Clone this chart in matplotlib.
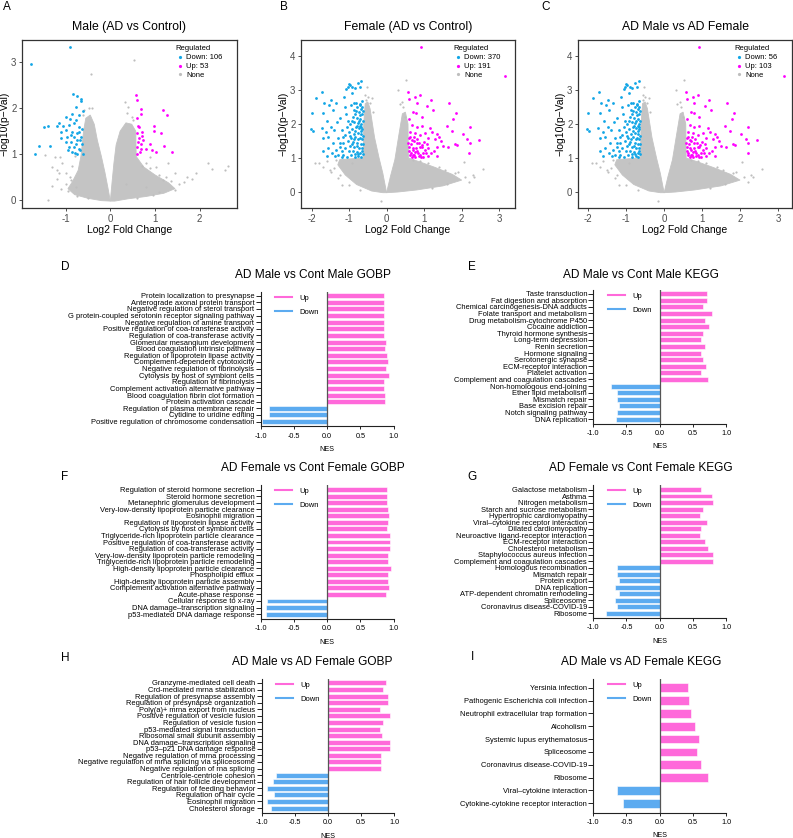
import matplotlib.pyplot as plt
from matplotlib.lines import Line2D
import numpy as np

plt.rcParams['font.family'] = ['Liberation Sans', 'DejaVu Sans']
plt.rcParams['axes.unicode_minus'] = False

# ---------------- volcano data ----------------
# dense grey cloud, outlined as two arms of the V
male_core_left_x = [0.0, -0.05, -0.12, -0.2, -0.29, -0.36, -0.45, -0.55, -0.6, -0.63, -0.66, -0.72, -0.85, -0.95, -0.8, -0.5, -0.2]
male_core_left_y = [-0.02, 0.25, 0.6, 0.95, 1.3, 1.65, 1.85, 1.78, 1.5, 1.2, 0.95, 0.65, 0.4, 0.25, 0.12, 0.04, -0.01]
male_core_right_x = [0.0, 0.04, 0.08, 0.13, 0.22, 0.35, 0.48, 0.57, 0.58, 0.75, 1.0, 1.3, 1.45, 1.2, 0.8, 0.4, 0.1]
male_core_right_y = [-0.02, 0.4, 0.8, 1.2, 1.5, 1.68, 1.65, 1.5, 0.95, 0.72, 0.55, 0.38, 0.25, 0.15, 0.08, 0.03, -0.02]

male_none = [(0.54, 3.04), (-0.44, 2.74), (-0.47, 2.01), (0.32, 2.14), (0.39, 2.03), (-1.47, 0.98), (-1.23, 0.94),
             (-1.12, 0.94), (-1.39, 0.01), (2.20, 0.80), (2.29, 0.67), (2.57, 0.65), (2.63, 0.74), (1.92, 0.58),
             (1.82, 0.47), (1.65, 0.40), (1.46, 0.58), (1.18, 0.43), (1.03, 0.72), (0.88, 0.94), (1.29, 0.80),
             (-1.08, 0.80), (-1.19, 0.65), (-1.30, 0.72), (-1.0, 0.58), (-0.89, 0.43), (-0.77, 0.29), (0.35, 0.36),
             (0.80, 0.29), (1.71, 0.51), (-0.9, 0.5), (-1.0, 0.35), (-1.1, 0.25), (-0.95, 0.2), (-0.75, 0.1),
             (-1.2, 0.45), (-0.85, 0.75), (-0.8, 0.95), (-0.58, 1.95), (-0.62, 1.85), (-0.42, 2.0),
             (0.38, 1.9), (0.48, 1.8), (0.5, 1.75), (0.9, 0.7), (1.1, 0.55), (1.25, 0.5), (1.35, 0.42), (1.55, 0.35),
             (1.45, 0.22), (1.1, 0.18), (0.95, 0.12), (-0.5, 0.05), (0.6, 0.04), (0.7, 0.75), (0.8, 0.8),
             (-1.3, 0.3), (-1.15, 0.6)]
male_down = [(-1.77, 2.96), (-0.90, 3.32), (-0.83, 2.30), (-0.74, 2.26), (-0.65, 2.19), (-0.66, 2.15), (-0.77, 2.03),
             (-0.62, 1.94), (-0.86, 1.88), (-0.71, 1.85), (-0.91, 1.76), (-1.0, 1.81), (-1.14, 1.67), (-1.19, 1.61),
             (-1.39, 1.61), (-1.49, 1.58), (-1.05, 1.61), (-0.92, 1.63), (-0.81, 1.67), (-0.70, 1.59), (-1.11, 1.49),
             (-1.0, 1.52), (-0.85, 1.49), (-0.74, 1.45), (-0.96, 1.38), (-0.81, 1.38), (-0.66, 1.38), (-0.89, 1.27),
             (-0.74, 1.30), (-0.64, 1.23), (-0.92, 1.16), (-0.81, 1.16), (-0.70, 1.12), (-0.85, 1.05), (-0.74, 1.01),
             (-0.62, 1.01), (-1.60, 1.18), (-1.35, 1.17), (-1.69, 1.0), (-0.70, 1.49), (-1.0, 1.27), (-1.11, 1.34),
             (-0.78, 1.22), (-0.67, 1.08), (-0.88, 1.42), (-0.76, 1.75), (-0.63, 1.55), (-0.95, 1.10), (-0.68, 1.30),
             (-0.79, 1.03)]
male_up = [(0.58, 2.28), (0.59, 2.17), (0.69, 1.99), (0.68, 1.88), (1.17, 1.96), (1.27, 1.84), (0.60, 1.78),
           (0.64, 1.59), (0.59, 1.45), (0.71, 1.49), (0.97, 1.61), (0.99, 1.51), (1.14, 1.46), (0.65, 1.34),
           (0.74, 1.30), (0.89, 1.23), (1.20, 1.17), (0.60, 1.16), (0.69, 1.12), (0.79, 1.12), (0.94, 1.09),
           (1.03, 1.05), (1.38, 1.04), (0.59, 1.01), (0.69, 1.23), (0.62, 1.27), (0.61, 1.62), (0.66, 1.05),
           (0.72, 1.40)]

# female comparison and AD male vs AD female share the same cloud in the picture
fem_core_left_x = [0.0, -0.1, -0.2, -0.32, -0.44, -0.5, -0.57, -0.61, -0.62, -0.9, -1.25, -1.3, -1.1, -0.8, -0.4, -0.1]
fem_core_left_y = [-0.02, 0.55, 1.0, 1.6, 2.45, 2.65, 2.6, 2.0, 1.0, 0.98, 0.95, 0.8, 0.5, 0.22, 0.03, -0.02]
fem_core_right_x = [0.0, 0.1, 0.22, 0.33, 0.42, 0.5, 0.57, 0.58, 0.9, 1.3, 1.75, 2.0, 1.5, 0.8, 0.3]
fem_core_right_y = [-0.02, 0.45, 0.95, 1.7, 2.3, 2.35, 2.0, 1.0, 0.88, 0.72, 0.52, 0.35, 0.18, 0.06, 0.0]

fem_none = [(0.53, 3.29), (0.31, 3.0), (-0.52, 3.1), (-0.57, 2.85), (-0.44, 2.61), (-0.36, 2.36), (-1.8, 0.84),
            (-1.51, 0.65), (-0.16, -0.26), (-0.92, 0.86), (-1.48, 0.6), (-1.24, 0.5), (2.06, 0.87), (2.34, 0.45),
            (2.58, 0.67), (1.82, 0.55), (1.56, 0.65), (-1.4, 0.7), (-1.3, 0.4), (-1.0, 0.2), (-1.2, 0.2),
            (-0.7, 0.05), (-1.6, 0.9), (-1.35, 0.95), (-0.55, 2.7), (-0.5, 2.8), (0.45, 2.5), (0.35, 2.6),
            (0.5, 2.2), (2.1, 0.45), (2.2, 0.3), (1.9, 0.6), (2.3, 0.5), (1.6, 0.25), (1.2, 0.12), (0.9, 0.9),
            (1.1, 0.85), (1.4, 0.75), (0.7, 0.95), (-1.7, 0.75), (-1.9, 0.85), (0.42, 2.65), (-0.4, 2.75)]
fem_down = [(-2.02, 1.84), (-1.97, 1.80), (-2.0, 2.33), (-1.88, 2.75), (-1.72, 2.95), (-1.66, 2.61), (-1.69, 2.33),
            (-1.73, 1.87), (-1.58, 2.10), (-1.53, 2.56), (-1.47, 2.71), (-1.44, 2.41), (-1.35, 2.63), (-1.33, 2.07),
            (-1.40, 1.82), (-1.56, 1.63), (-1.69, 1.58), (-1.62, 1.77), (-1.49, 1.90), (-1.24, 2.17), (-1.20, 1.82),
            (-1.29, 1.58), (-1.42, 1.43), (-1.24, 1.33), (-1.16, 1.63), (-1.11, 2.51), (-1.13, 2.78), (-1.07, 3.02),
            (-0.98, 3.14), (-1.02, 3.10), (-0.91, 3.08), (-0.77, 3.22), (-0.67, 3.25), (-0.71, 3.10), (-0.93, 2.92),
            (-0.84, 3.05), (-1.0, 3.18), (-0.68, 1.02), (-0.75, 1.05), (-0.85, 1.03), (-0.95, 1.08), (-1.05, 1.04),
            (-1.15, 1.1), (-0.7, 1.15), (-0.8, 1.18), (-0.9, 1.2), (-1.0, 1.22), (-0.66, 1.3), (-0.74, 1.28),
            (-0.86, 1.33), (-0.97, 1.36), (-1.1, 1.3), (-0.69, 1.42), (-0.78, 1.45), (-0.9, 1.48), (-1.03, 1.5),
            (-0.66, 1.55), (-0.72, 1.6), (-0.83, 1.62), (-0.95, 1.58), (-0.68, 1.7), (-0.77, 1.74), (-0.88, 1.72),
            (-1.0, 1.76), (-0.65, 1.85), (-0.73, 1.88), (-0.82, 1.9), (-0.92, 1.86), (-0.67, 2.0), (-0.76, 2.02),
            (-0.86, 2.05), (-0.97, 2.0), (-0.7, 2.15), (-0.8, 2.18), (-0.9, 2.2), (-0.66, 2.3), (-0.74, 2.34),
            (-0.84, 2.28), (-0.69, 2.45), (-0.78, 2.5), (-0.88, 2.42), (-0.72, 2.6), (-0.82, 2.62), (-0.95, 2.55),
            (-0.66, 2.68), (-1.05, 1.9), (-1.08, 2.3), (-1.12, 1.68), (-1.2, 1.2), (-1.3, 1.1), (-1.25, 1.45),
            (-1.35, 1.25), (-1.45, 1.15), (-1.55, 1.3), (-1.6, 1.05), (-1.7, 1.2), (-0.63, 1.12), (-0.64, 1.65),
            (-0.63, 2.1), (-0.65, 2.5), (-0.7, 1.95), (-0.75, 1.55), (-0.8, 1.35), (-0.85, 1.12), (-0.93, 1.4),
            (-0.98, 1.65), (-1.02, 2.1), (-1.15, 1.45), (-1.18, 1.02), (-1.38, 1.05), (-0.88, 2.62), (-0.72, 2.25),
            (-0.79, 1.95), (-0.83, 1.78), (-0.69, 1.78), (-0.64, 1.4), (-0.67, 1.92), (-0.63, 2.38), (-0.71, 2.55),
            (-0.76, 1.12), (-0.87, 1.56), (-0.92, 2.1), (-0.74, 2.1), (-0.66, 1.2), (-0.81, 2.38)]
fem_up = [(0.92, 4.25), (3.16, 3.41), (0.58, 2.95), (0.76, 2.80), (0.89, 2.85), (0.60, 2.73), (1.18, 2.71),
          (1.67, 2.63), (0.80, 2.61), (1.07, 2.53), (1.24, 2.41), (0.71, 2.36), (0.78, 2.31), (1.85, 2.31),
          (0.93, 2.20), (1.78, 2.14), (0.60, 2.14), (2.22, 1.90), (0.67, 1.97), (0.80, 1.90), (0.93, 1.94),
          (1.16, 1.87), (1.60, 1.94), (1.73, 1.80), (0.62, 1.77), (0.76, 1.73), (0.89, 1.68), (1.02, 1.75),
          (1.20, 1.77), (1.33, 1.71), (1.40, 1.63), (1.29, 1.55), (1.11, 1.58), (2.03, 1.71), (2.15, 1.55),
          (2.46, 1.53), (1.82, 1.41), (1.87, 1.38), (2.22, 1.43), (1.51, 1.35), (1.64, 1.33), (0.67, 1.53),
          (0.80, 1.43), (0.93, 1.31), (0.60, 1.33), (0.71, 1.24), (0.84, 1.16), (1.02, 1.24), (1.17, 1.14),
          (1.33, 1.31), (0.62, 1.09), (0.76, 1.04), (0.91, 1.02), (1.11, 1.06), (2.20, 1.16), (0.6, 1.2),
          (0.65, 1.4), (0.7, 1.1), (0.72, 1.5), (0.78, 1.3), (0.82, 1.2), (0.86, 1.45), (0.9, 1.1), (0.95, 1.38),
          (0.98, 1.02), (1.05, 1.15), (0.63, 1.62), (0.74, 1.62), (0.68, 1.02), (0.85, 1.05), (1.0, 1.48),
          (1.1, 1.3), (1.25, 1.2), (1.35, 1.05), (1.45, 1.5), (0.58, 1.45), (0.69, 1.3), (0.64, 1.15),
          (0.75, 1.18), (0.88, 1.32), (0.97, 1.15), (1.08, 1.4), (0.81, 1.55), (0.59, 1.6), (0.73, 1.08)]

# ---------------- GSEA data ----------------
d_terms = ["Protein localization to presynapse", "Anterograde axonal protein transport",
           "Negative regulation of sterol transport", "G protein-coupled serotonin receptor signaling pathway",
           "Negative regulation of amine transport", "Positive regulation of coa-transferase activity",
           "Regulation of coa-transferase activity", "Glomerular mesangium development",
           "Blood coagulation intrinsic pathway", "Regulation of lipoprotein lipase activity",
           "Complement-dependent cytotoxicity", "Negative regulation of fibrinolysis",
           "Cytolysis by host of symbiont cells", "Regulation of fibrinolysis",
           "Complement activation alternative pathway", "Blood coagulation fibrin clot formation",
           "Protein activation cascade", "Regulation of plasma membrane repair", "Cytidine to uridine editing",
           "Positive regulation of chromosome condensation"]
d_nes = [0.85, 0.85, 0.85, 0.86, 0.85, 0.85, 0.85, 0.89, 0.87, 0.90, 0.91, 0.88, 0.93, 0.86, 0.86, 0.87, 0.87,
         -0.87, -0.87, -0.97]

e_terms = ["Taste transduction", "Fat digestion and absorption", "Chemical carcinogenesis-DNA adducts",
           "Folate transport and metabolism", "Drug metabolism-cytochrome P450", "Cocaine addiction",
           "Thyroid hormone synthesis", "Long-term depression", "Renin secretion", "Hormone signaling",
           "Serotonergic synapse", "ECM-receptor interaction", "Platelet activation",
           "Complement and coagulation cascades", "Non-homologous end-joining", "Ether lipid metabolism",
           "Mismatch repair", "Base excision repair", "Notch signaling pathway", "DNA replication"]
e_nes = [0.72, 0.72, 0.66, 0.79, 0.68, 0.75, 0.65, 0.63, 0.69, 0.62, 0.66, 0.70, 0.62, 0.73,
         -0.73, -0.64, -0.65, -0.62, -0.65, -0.66]

f_terms = ["Regulation of steroid hormone secretion", "Steroid hormone secretion",
           "Metanephric glomerulus development", "Very-low-density lipoprotein particle clearance",
           "Eosinophil migration", "Regulation of lipoprotein lipase activity", "Cytolysis by host of symbiont cells",
           "Triglyceride-rich lipoprotein particle clearance", "Positive regulation of coa-transferase activity",
           "Regulation of coa-transferase activity", "Very-low-density lipoprotein particle remodeling",
           "Triglyceride-rich lipoprotein particle remodeling", "High-density lipoprotein particle clearance",
           "Phospholipid efflux", "High-density lipoprotein particle assembly",
           "Complement activation alternative pathway", "Acute-phase response", "Cellular response to x-ray",
           "DNA damage\u2013transcription signaling", "p53-mediated DNA damage response"]
f_nes = [0.90, 0.90, 0.90, 0.91, 0.93, 0.91, 0.90, 0.95, 0.94, 0.94, 0.91, 0.91, 0.96, 0.91, 0.92, 0.93, 0.89,
         -0.90, -0.92, -0.92]

g_terms = ["Galactose metabolism", "Asthma", "Nitrogen metabolism", "Starch and sucrose metabolism",
           "Hypertrophic cardiomyopathy", "Viral\u2013cytokine receptor interaction", "Dilated cardiomyopathy",
           "Neuroactive ligand-receptor interaction", "ECM-receptor interaction", "Cholesterol metabolism",
           "Staphylococcus aureus infection", "Complement and coagulation cascades", "Homologous recombination",
           "Mismatch repair", "Protein export", "DNA replication", "ATP-dependent chromatin remodeling",
           "Spliceosome", "Coronavirus disease-COVID-19", "Ribosome"]
g_nes = [0.63, 0.79, 0.80, 0.65, 0.61, 0.72, 0.62, 0.61, 0.68, 0.73, 0.81, 0.80,
         -0.64, -0.64, -0.62, -0.68, -0.61, -0.68, -0.65, -0.81]

h_terms = ["Granzyme-mediated cell death", "Crd-mediated mrna stabilization", "Regulation of presynapse assembly",
           "Regulation of presynapse organization", "Poly(a)+ mrna export from nucleus",
           "Positive regulation of vesicle fusion", "Regulation of vesicle fusion", "p53-mediated signal transduction",
           "Ribosomal small subunit assembly", "DNA damage\u2013transcription signaling",
           "p53\u2013p21 DNA damage response", "Negative regulation of mrna processing",
           "Negative regulation of mrna splicing via spliceosome", "Negative regulation of rna splicing",
           "Centriole-centriole cohesion", "Regulation of hair follicle development",
           "Regulation of feeding behavior", "Regulation of hair cycle", "Eosinophil migration",
           "Cholesterol storage"]
h_nes = [0.88, 0.83, 0.90, 0.90, 0.78, 0.94, 0.83, 0.78, 0.82, 0.94, 0.94, 0.80, 0.80, 0.80,
         -0.78, -0.82, -0.91, -0.81, -0.91, -0.86]

i_terms = ["Yersinia infection", "Pathogenic Escherichia coli infection", "Neutrophil extracellular trap formation",
           "Alcoholism", "Systemic lupus erythematosus", "Spliceosome", "Coronavirus disease-COVID-19", "Ribosome",
           "Viral\u2013cytokine interaction", "Cytokine-cytokine receptor interaction"]
i_nes = [0.43, 0.44, 0.47, 0.53, 0.59, 0.56, 0.62, 0.73, -0.64, -0.55]

# ---------------- drawing ----------------
W, H = 793, 838
fig = plt.figure(figsize=(W / 100, H / 100), dpi=100)

GREY = '#BEBEBE'
CORE = '#C4C4C4'
DOWN_C = '#12A6E6'
UP_C = '#FF00FF'
PINK = '#FF69DA'
BLUE = '#5CABF0'


def rect_px(left, top, right, bottom):
    return [left / W, 1 - bottom / H, (right - left) / W, (bottom - top) / H]


def label_px(x, y, s, size):
    fig.text(x / W, 1 - y / H, s, ha='center', va='center', fontsize=size)


def volcano(rect, core_l, core_r, none, down, up, n_down, n_up, title, xlim, ylim, xticks, yticks):
    ax = fig.add_axes(rect)
    ax.fill(core_l[0], core_l[1], color=CORE, lw=0.6, ec=CORE, zorder=1)
    ax.fill(core_r[0], core_r[1], color=CORE, lw=0.6, ec=CORE, zorder=1)
    nx, ny = np.array(none).T
    ax.scatter(nx, ny, s=2.5, c=GREY, lw=0, zorder=2)
    dx, dy = np.array(down).T
    ax.scatter(dx, dy, s=4, c=DOWN_C, lw=0, zorder=3)
    ux, uy = np.array(up).T
    ax.scatter(ux, uy, s=4, c=UP_C, lw=0, zorder=3)
    ax.set_xlim(*xlim)
    ax.set_ylim(*ylim)
    ax.set_xticks(xticks)
    ax.set_yticks(yticks)
    for s in ax.spines.values():
        s.set_color('#333333')
        s.set_linewidth(0.9)
    ax.tick_params(length=2.5, width=0.6, color='#333333', labelcolor='#4D4D4D', labelsize=7, pad=1.5)
    ax.set_title(title, fontsize=8.8, pad=7)
    ax.set_xlabel('Log2 Fold Change', fontsize=7.5, labelpad=1)
    ax.set_ylabel('\u2212log10(p\u2212Val)', fontsize=7.5, labelpad=1)
    handles = [Line2D([], [], marker='o', ls='', ms=2.3, mew=0, color=DOWN_C, label=f'Down: {n_down}'),
               Line2D([], [], marker='o', ls='', ms=2.3, mew=0, color=UP_C, label=f'Up: {n_up}'),
               Line2D([], [], marker='o', ls='', ms=2.3, mew=0, color=GREY, label='None')]
    ax.legend(handles=handles, title='Regulated', loc='upper right', bbox_to_anchor=(0.95, 0.99),
              frameon=False, fontsize=5.5, title_fontsize=5.5, handletextpad=0.2, labelspacing=0.2,
              borderpad=0, handlelength=1.2, alignment='left')
    return ax


volcano(rect_px(22, 40, 237, 208), (male_core_left_x, male_core_left_y), (male_core_right_x, male_core_right_y),
        male_none, male_down, male_up, 106, 53, 'Male (AD vs Control)',
        (-1.98, 2.84), (-0.17, 3.48), [-1, 0, 1, 2], [0, 1, 2, 3])
volcano(rect_px(301, 40, 515, 208), (fem_core_left_x, fem_core_left_y), (fem_core_right_x, fem_core_right_y),
        fem_none, fem_down, fem_up, 370, 191, 'Female (AD vs Control)',
        (-2.28, 3.42), (-0.47, 4.47), [-2, -1, 0, 1, 2, 3], [0, 1, 2, 3, 4])
volcano(rect_px(578, 40, 792, 208), (fem_core_left_x, fem_core_left_y), (fem_core_right_x, fem_core_right_y),
        fem_none, fem_down, fem_up, 56, 103, 'AD Male vs AD Female',
        (-2.27, 3.37), (-0.47, 4.47), [-2, -1, 0, 1, 2, 3], [0, 1, 2, 3, 4])


def gsea(rect, terms, nes, title, title_xy, bar_h, top_pad, bot_pad):
    ax = fig.add_axes(rect)
    n = len(terms)
    pos = np.arange(n)
    colors = [PINK if v > 0 else BLUE for v in nes]
    ax.barh(pos, nes, height=bar_h, color=colors, edgecolor='white', linewidth=0.4, zorder=2)
    ax.axvline(0, color='#555555', lw=0.9, zorder=3)
    ax.set_xlim(-1, 1)
    ax.set_ylim(n - 1 + bot_pad, -top_pad)
    ax.set_yticks(pos)
    ax.set_yticklabels(terms, fontsize=5.4)
    ax.set_xticks([-1, -0.5, 0, 0.5, 1])
    ax.set_xticklabels(['-1.0', '-0.5', '0.0', '0.5', '1.0'], fontsize=5.2)
    ax.spines[['top', 'right']].set_visible(False)
    for s in ['left', 'bottom']:
        ax.spines[s].set_linewidth(0.8)
        ax.spines[s].set_color('#222222')
    ax.tick_params(axis='y', length=3.5, width=0.6, pad=1)
    ax.tick_params(axis='x', length=2.5, width=0.6, pad=2)
    ax.set_xlabel('NES', fontsize=5.2, labelpad=4.5)
    handles = [Line2D([], [], color=PINK, lw=1.5, label='Up'),
               Line2D([], [], color=BLUE, lw=1.5, label='Down')]
    ax.legend(handles=handles, loc='upper left', bbox_to_anchor=(0.08, 1.01), frameon=False, fontsize=5.5,
              handlelength=2.2, handletextpad=1.0, labelspacing=0.9, borderpad=0)
    label_px(title_xy[0], title_xy[1], title, 8.6)
    return ax


gsea(rect_px(260.5, 292, 393.5, 426.5), d_terms, d_nes, 'AD Male vs Cont Male GOBP', (313, 275), 0.75, 0.55, 0.75)
gsea(rect_px(593.3, 290, 726, 424), e_terms, e_nes, 'AD Male vs Cont Male KEGG', (641, 275), 0.75, 0.55, 0.75)
gsea(rect_px(260.5, 485, 393.5, 619), f_terms, f_nes, 'AD Female vs Cont Female GOBP', (313, 468), 0.75, 0.7, 0.75)
gsea(rect_px(593.3, 485, 726, 618), g_terms, g_nes, 'AD Female vs Cont Female KEGG', (641, 468), 0.75, 0.7, 0.75)
gsea(rect_px(261.5, 679, 394.3, 813), h_terms, h_nes, 'AD Male vs AD Female GOBP', (312, 662), 0.75, 0.6, 0.75)
gsea(rect_px(593.3, 679, 726, 812.7), i_terms, i_nes, 'AD Male vs AD Female KEGG', (641, 662), 0.68, 0.68, 0.73)

for letter, x, y in [('A', 7, 7), ('B', 284, 7), ('C', 546, 7), ('D', 65, 267), ('E', 472, 267),
                     ('F', 65, 477), ('G', 472, 477), ('H', 65, 658), ('I', 472, 657)]:
    label_px(x, y, letter, 8.5)

fig.savefig('out.png', dpi=100)
